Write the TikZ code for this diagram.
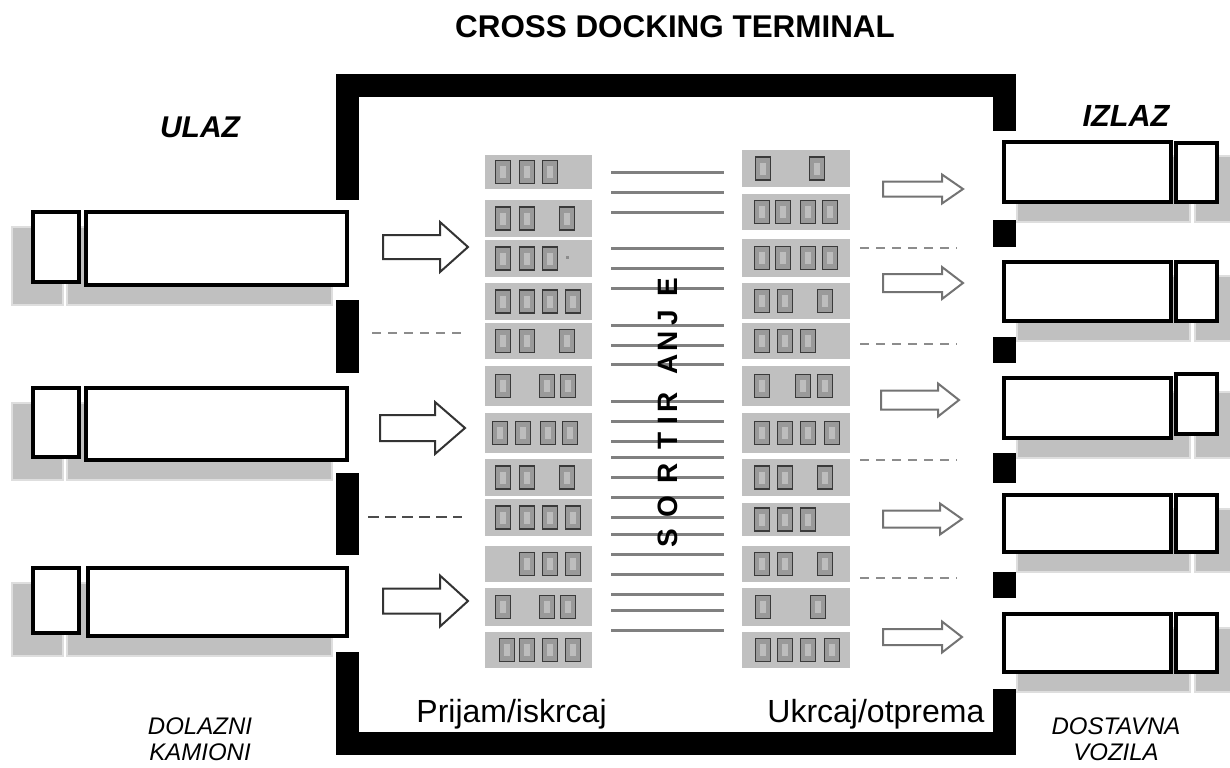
\documentclass[tikz,border=0pt]{standalone}
\usepackage{fontspec}
\setmainfont{Liberation Sans}
\definecolor{slotgray}{HTML}{C0C0C0}
\definecolor{shadowgray}{HTML}{C0C0C0}
\definecolor{shadowedge}{HTML}{DEDEDE}
\definecolor{linegray}{HTML}{808080}
\definecolor{dashgray}{HTML}{8C8C8C}
\definecolor{tofufill}{HTML}{9A9A9A}
\definecolor{tofuedge}{HTML}{3A3A3A}
\definecolor{tofuin}{HTML}{BDBDBD}
\newcommand\myfs[1]{\fontsize{#1}{#1}\selectfont}
\tikzset{
  wall/.style={fill=black},
  shadowbox/.style={fill=shadowgray, draw=shadowedge, line width=1pt},
  truckbox/.style={fill=white, draw=black, line width=1.6pt},
  slotbox/.style={fill=slotgray},
  tofu/.style={draw=tofuedge, fill=tofufill, line width=0.6pt, minimum width=7.5pt, minimum height=11.5pt, inner sep=0pt},
  tofuinner/.style={fill=tofuin, minimum width=3pt, minimum height=6pt, inner sep=0pt},
  midline/.style={draw=linegray, line width=1.5pt},
  dockdash/.style={draw=dashgray, line width=1pt, dash pattern=on 4.5pt off 3.5pt},
  dockdashdark/.style={draw=black!70, line width=1pt, dash pattern=on 5.5pt off 3pt},
  inarrow/.style={fill=white, draw=black!80, line width=1pt, line join=miter},
  outarrow/.style={fill=white, draw=black!55, line width=1pt, line join=miter},
  sortletter/.style={font=\myfs{14}\bfseries, rotate=90, inner sep=0pt},
  bottomlabel/.style={font=\myfs{12}\itshape, inner sep=0pt}
}
\begin{document}
\begin{tikzpicture}[x=0.5pt, y=-0.5pt]
\useasboundingbox (0,0) rectangle (1230,767);
\clip (0,0) rectangle (1230,767);

% title
\node[font=\myfs{15.7}\bfseries] (title) at (675,27) {CROSS DOCKING TERMINAL};

% ---------- left (incoming) trucks ----------
\foreach \tt/\tb/\sx in {211/286/85, 387/461/85, 567/637/87}{
  \draw[shadowbox] (12,\tt+16) rectangle (63,\tb+19);
  \draw[shadowbox] (67,\tt+16) rectangle (332,\tb+19);
  \draw[truckbox] (33,\tt+1) rectangle (79,\tb-4);
  \draw[truckbox] (\sx+1,\tt+1) rectangle (347,\tb-1);
}

% ---------- right (outgoing) vehicles ----------
\foreach \tt/\tb/\ct/\cb in {141/203/142/203, 261/322/261/322, 377/439/373/435, 494/553/494/553, 613/673/613/673}{
  \draw[shadowbox] (1017,\tt+15) rectangle (1190,\tb+19);
  \draw[shadowbox] (1195,\tt+15) rectangle (1245,\tb+19);
  \draw[truckbox] (1004,\tt+1) rectangle (1171,\tb-1);
  \draw[truckbox] (1176,\ct+1) rectangle (1217,\cb-1);
}

% ---------- terminal walls ----------
\fill[wall] (336,74) rectangle (1016,97);
\fill[wall] (336,732) rectangle (1016,755);
\foreach \a/\b in {74/200, 300/373, 473/555, 652/755}{
  \fill[wall] (336,\a) rectangle (359,\b);
}
\foreach \a/\b in {74/131, 220/247, 337/363, 453/483, 572/598, 689/755}{
  \fill[wall] (993,\a) rectangle (1016,\b);
}

% ---------- dashed dock separators ----------
\draw[dockdash] (372,333) -- (467,333);
\draw[dockdashdark] (368,517) -- (462,517);
\foreach \y in {248, 344, 460, 578}{
  \draw[dockdash] (860,\y) -- (957,\y);
}

% ---------- block arrows ----------
\foreach \xa/\xb/\xc/\c/\h/\H in {383/440/468/247/12/25, 380/435/465/428/13/26, 383/440/468/601/12.5/25.5}{
  \draw[inarrow] (\xa,\c-\h) -- (\xb,\c-\h) -- (\xb,\c-\H) -- (\xc,\c) -- (\xb,\c+\H) -- (\xb,\c+\h) -- (\xa,\c+\h) -- cycle;
}
\foreach \xa/\xb/\xc/\c/\h/\H in {883/942/963/189/7.5/14.5, 883/942/963/283/9/16, 881/938/959/400/9.5/16.5, 883/940/962/519/8.5/15.5, 883/942/962/637/8/15.5}{
  \draw[outarrow] (\xa,\c-\h) -- (\xb,\c-\h) -- (\xb,\c-\H) -- (\xc,\c) -- (\xb,\c+\H) -- (\xb,\c+\h) -- (\xa,\c+\h) -- cycle;
}

% ---------- receiving slots (left column) ----------
\foreach \t/\b/\xs in {155/189/{100,170,240}, 200/237/{100,170,290}, 240/277/{100,170,240}, 283/320/{100,170,240,310}, 323/359/{100,170,290}, 366/406/{100,230,295}, 413/453/{90,160,235,300}, 459/496/{100,170,290}, 499/536/{100,170,240,310}, 546/582/{170,240,310}, 588/626/{100,230,295}, 632/668/{110,170,240,310}}{
  \fill[slotbox] (485,\t) rectangle (592,\b);
  \foreach \z in \xs {
    \node[tofu] (L-\t-\z) at ({470+\z/3},{(\t+\b)/2}) {};
    \node[tofuinner] (Li-\t-\z) at (L-\t-\z.center) {};
  }
}
\fill[black!45] (566,256) rectangle (569,259);

% ---------- shipping slots (right column) ----------
\foreach \t/\b/\xs in {150/187/{878,1040}, 194/230/{875,940,1015,1080}, 239/277/{875,940,1015,1080}, 283/319/{875,945,1065}, 323/359/{875,945,1015}, 366/406/{875,1000,1065}, 413/453/{875,945,1015,1085}, 459/496/{875,945,1065}, 503/536/{875,945,1015}, 546/582/{875,945,1065}, 588/626/{880,1045}, 632/668/{880,945,1015,1085}}{
  \fill[slotbox] (742,\t) rectangle (850,\b);
  \foreach \z in \xs {
    \node[tofu] (R-\t-\z) at ({470+\z/3},{(\t+\b)/2}) {};
    \node[tofuinner] (Ri-\t-\z) at (R-\t-\z.center) {};
  }
}

% ---------- sorting lines ----------
\foreach \y in {172,192,212, 248,268,288, 325,345,364, 401,421,441,457,477,497,517,534,554,574,594,610,630}{
  \draw[midline] (611,\y) -- (724,\y);
}

% ---------- SORTIRANJE ----------
\foreach \ch/\y [count=\i] in {S/538, O/507, R/473, T/441, I/421, R/402, A/364, N/341, J/318, E/287}{
  \node[sortletter] (sort\i) at (668,\y) {\ch};
}

% ---------- labels ----------
\node[font=\myfs{15}\bfseries\itshape] (ulaz) at (200,127) {ULAZ};
\node[font=\myfs{15.3}\bfseries\itshape] (izlaz) at (1126,116) {IZLAZ};
\node[font=\myfs{16}, anchor=base west, inner sep=0pt] (prijam) at (416,722) {Prijam/iskrcaj};
\node[font=\myfs{16}, anchor=base west, inner sep=0pt] (ukrcaj) at (767,722) {Ukrcaj/otprema};
\node[bottomlabel] (dol1) at (200,726) {DOLAZNI};
\node[bottomlabel] (dol2) at (200,752) {KAMIONI};
\node[bottomlabel] (dos1) at (1116,726) {DOSTAVNA};
\node[bottomlabel] (dos2) at (1116,752) {VOZILA};
\end{tikzpicture}
\end{document}
